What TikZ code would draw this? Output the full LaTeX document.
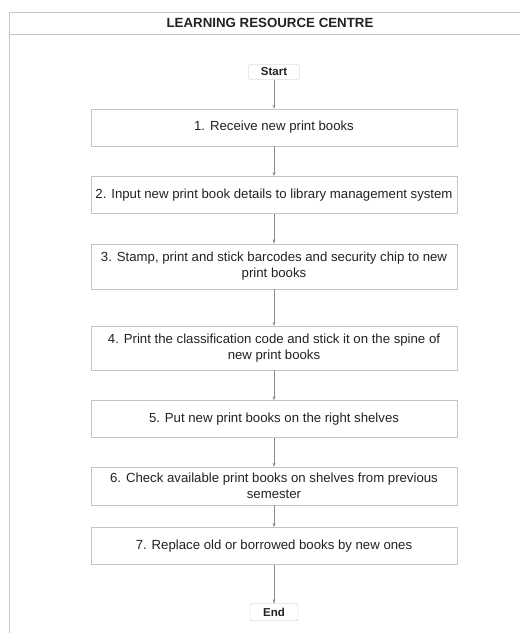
\documentclass[tikz,border=0pt]{standalone}
\usepackage{fontspec}
\setmainfont{Liberation Sans}
\usetikzlibrary{arrows.meta,positioning}
\definecolor{boxgray}{HTML}{C4C4C4}
\definecolor{linegray}{HTML}{8A8A8A}
\definecolor{txtgray}{HTML}{222222}

\begin{document}
\begin{tikzpicture}[
   x=1pt, y=-1pt,
   node distance=30pt,
   stepbox/.style={draw=boxgray, minimum width=366pt, minimum height=37pt,
               inner sep=2pt, align=center, text=txtgray,
               font=\fontsize{13.2}{16}\selectfont},
   term/.style={draw=boxgray, rounded corners=2pt, minimum width=51pt,
               minimum height=15pt, inner sep=1pt, text=txtgray,
               font=\fontsize{11.5}{14}\selectfont\bfseries},
   >={Stealth[length=4pt, width=3pt]}]
  \useasboundingbox (0,0) rectangle (520,633);
  % page frame
  \draw[boxgray, line width=0.6pt] (9,12) -- (520,12);
  \draw[boxgray, line width=0.6pt] (9,34) -- (520,34);
  \draw[boxgray, line width=0.6pt] (9,12) -- (9,633);
  \node[font=\fontsize{13.3}{15}\selectfont\bfseries, text=txtgray] (title) at (270,23) {LEARNING RESOURCE CENTRE};
  % steps
  \node[term] (start) at (274,72) {Start};
  \node[stepbox, below=29pt of start] (s1) {1. Receive new print books};
  \node[stepbox, below=of s1] (s2) {2. Input new print book details to library management system};
  \node[stepbox, minimum height=45pt, below=of s2] (s3) {3. Stamp, print and stick barcodes and security chip to new\\print books};
  \node[stepbox, minimum height=44pt, below=37pt of s3] (s4) {4. Print the classification code and stick it on the spine of\\new print books};
  \node[stepbox, below=of s4] (s5) {5. Put new print books on the right shelves};
  \node[stepbox, minimum height=38pt, below=29pt of s5] (s6) {6. Check available print books on shelves from previous\\semester};
  \node[stepbox, below=22pt of s6] (s7) {7. Replace old or borrowed books by new ones};
  \node[term, minimum width=48pt, minimum height=17pt, below=39pt of s7] (end) {End};
  \draw[->, linegray, line width=0.6pt] (start) -- (s1);
  \draw[->, linegray, line width=0.6pt] (s1) -- (s2);
  \draw[->, linegray, line width=0.6pt] (s2) -- (s3);
  \draw[->, linegray, line width=0.6pt] (s3) -- (s4);
  \draw[->, linegray, line width=0.6pt] (s4) -- (s5);
  \draw[->, linegray, line width=0.6pt] (s5) -- (s6);
  \draw[->, linegray, line width=0.6pt] (s6) -- (s7);
  \draw[->, linegray, line width=0.6pt] (s7) -- (end);
\end{tikzpicture}
\end{document}
